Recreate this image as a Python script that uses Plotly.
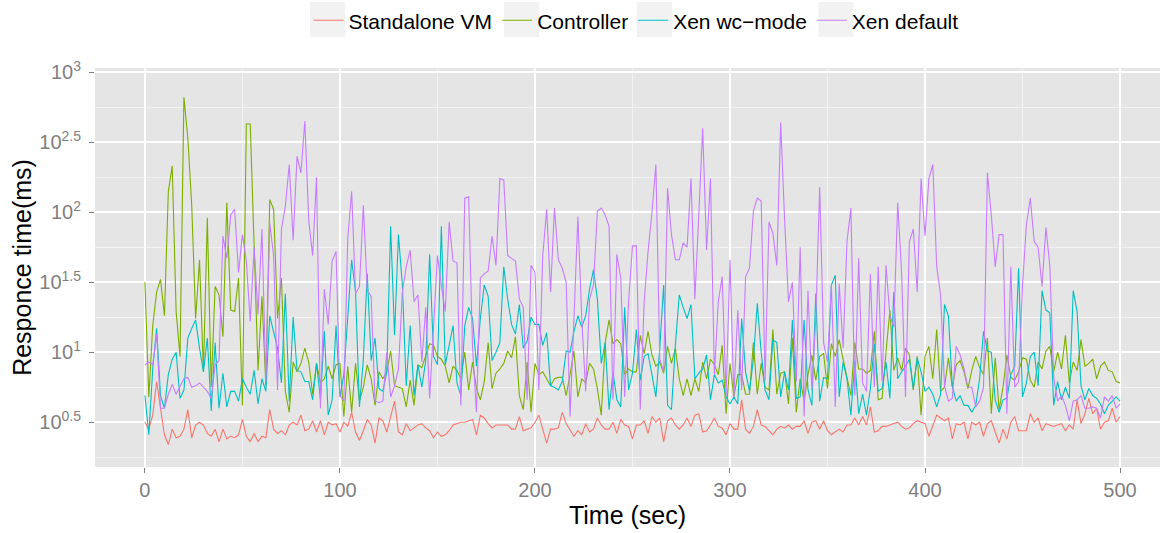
import plotly.graph_objects as go

# ---------------- data ----------------
time_sec = list(range(0, 501, 2))

series_names = ["Standalone VM", "Controller", "Xen wc\u2212mode", "Xen default"]

standalone_vm_ms = [
    3.16, 2.82, 3.55, 6.17, 3.98, 2.57, 2.19, 2.82, 2.45, 2.51, 2.82, 3.89, 2.45, 3.02, 3.16, 3.02, 2.63, 2.51, 2.82, 2.29, 2.82, 2.40, 2.51, 2.45, 2.57, 3.31, 2.51, 2.29, 2.63, 2.29, 2.51,
    2.45, 3.89, 2.82, 2.63, 2.75, 2.57, 3.02, 3.16, 3.02, 3.55, 2.75, 2.82, 3.24, 2.69, 3.24, 2.57, 3.16, 3.02, 3.09, 2.69, 3.16, 2.95, 3.72, 2.69, 2.34, 2.75, 3.31, 3.02, 2.24, 3.39, 3.24,
    2.69, 3.55, 4.47, 2.69, 2.57, 3.09, 2.75, 2.88, 3.02, 3.09, 2.88, 2.75, 2.45, 2.69, 2.51, 2.57, 2.75, 3.02, 3.09, 3.16, 3.16, 3.24, 3.31, 2.57, 3.55, 3.39, 3.09, 2.88, 3.02, 3.02, 3.02,
    3.02, 2.82, 2.82, 3.47, 2.75, 2.82, 2.88, 3.16, 3.55, 2.82, 2.24, 2.82, 2.82, 2.88, 3.72, 3.09, 2.75, 2.51, 2.75, 2.57, 3.09, 2.69, 2.82, 3.39, 3.02, 2.82, 2.82, 3.16, 2.63, 3.31, 3.02,
    2.95, 2.40, 3.02, 3.02, 3.24, 2.63, 3.47, 3.16, 3.39, 2.29, 3.24, 3.39, 3.02, 2.82, 3.02, 3.39, 2.95, 3.55, 3.63, 2.69, 2.75, 3.02, 3.39, 2.95, 2.88, 2.57, 3.09, 2.82, 2.82, 4.57,
    2.82, 2.63, 2.95, 3.89, 3.02, 2.95, 2.75, 2.57, 2.82, 2.95, 2.88, 3.02, 2.82, 2.95, 2.95, 3.24, 2.63, 3.16, 3.24, 2.82, 3.24, 2.75, 2.57, 2.69, 2.82, 2.69, 3.02, 3.02, 3.39, 3.02, 3.47,
    3.02, 4.07, 2.69, 2.75, 2.95, 2.95, 3.02, 3.09, 3.16, 2.95, 2.82, 2.88, 3.09, 3.24, 3.16, 3.09, 2.51, 3.02, 3.55, 3.39, 3.24, 3.39, 2.40, 3.09, 3.02, 3.16, 2.40, 3.16, 3.02, 3.16, 2.51,
    3.09, 3.24, 2.69, 2.24, 2.82, 2.40, 3.16, 3.47, 2.75, 2.75, 2.75, 3.63, 3.16, 3.39, 2.75, 3.09, 3.02, 2.95, 3.02, 3.09, 2.75, 3.02, 2.82, 4.57, 3.09, 3.63, 4.68, 3.63, 3.98, 2.82, 3.16, 3.24, 3.98, 3.16, 3.47,
]

controller_ms = [
    31.6, 4.79, 15.5, 26.9, 33.1, 18.2, 141, 214, 19.5, 9.33, 661, 339, 112, 17.4, 45.7, 7.24, 91.2, 5.62, 29.5, 25.7, 12.9, 117, 20.0, 19.5, 33.9, 4.17, 427, 427, 57.5, 7.41, 25.1,
    5.75, 123, 105, 17.4, 33.9, 5.25, 3.72, 8.51, 7.24, 8.32, 10.7, 8.51, 5.01, 8.32, 6.03, 6.46, 7.94, 6.46, 8.13, 8.32, 3.47, 7.94, 3.72, 8.32, 4.47, 5.62, 8.13, 6.46, 4.17, 7.24, 6.46,
    7.24, 10.2, 5.75, 5.62, 5.50, 4.07, 6.31, 4.17, 8.13, 7.76, 9.33, 11.5, 11.2, 9.33, 8.91, 7.94, 6.03, 7.94, 7.41, 6.46, 10.0, 5.37, 8.51, 5.50, 4.57, 6.17, 11.7, 5.50, 7.08, 7.59, 8.32,
    10.2, 9.12, 12.9, 4.90, 3.89, 8.51, 3.72, 8.32, 6.92, 7.24, 6.46, 5.75, 6.46, 6.61, 6.61, 4.90, 6.92, 10.2, 4.79, 6.46, 6.03, 8.32, 7.59, 5.50, 3.55, 11.7, 17.0, 11.5, 12.3, 11.5, 6.92,
    7.59, 7.24, 7.24, 13.2, 9.77, 14.1, 9.55, 7.94, 8.51, 7.08, 11.0, 8.32, 10.7, 6.46, 4.90, 6.46, 4.90, 6.46, 5.25, 8.51, 6.46, 8.91, 8.13, 6.92, 11.2, 3.63, 8.32, 4.79, 6.92, 6.92,
    5.01, 5.01, 11.7, 5.01, 8.32, 5.62, 5.37, 14.5, 5.01, 7.08, 7.24, 4.27, 12.6, 3.72, 6.46, 4.47, 6.92, 9.55, 6.31, 9.33, 9.77, 5.50, 11.5, 9.33, 12.3, 8.91, 6.61, 4.90, 11.7, 7.59, 7.59,
    7.08, 7.41, 14.1, 4.57, 4.68, 10.0, 20.0, 7.41, 9.12, 7.41, 10.7, 9.55, 5.37, 9.33, 3.55, 9.33, 11.0, 6.46, 14.5, 5.25, 5.62, 9.12, 5.62, 8.13, 8.71, 7.24, 5.50, 7.41, 9.33, 7.76, 6.92,
    12.6, 3.63, 9.12, 3.89, 5.62, 9.55, 6.61, 6.31, 7.24, 9.12, 8.91, 6.31, 5.62, 8.51, 7.59, 10.2, 11.0, 7.24, 10.0, 7.59, 13.2, 6.03, 8.51, 7.41, 12.3, 7.94, 8.32, 8.91, 6.46, 7.94, 8.51, 7.41, 7.24, 6.17, 6.03,
]

xen_wc_mode_ms = [
    4.90, 2.57, 7.59, 14.8, 4.90, 3.98, 6.92, 8.91, 10.0, 4.68, 5.37, 12.6, 14.8, 17.0, 10.7, 7.24, 12.6, 3.80, 11.7, 3.98, 7.08, 4.07, 5.25, 5.25, 4.47, 6.46, 5.62, 5.01, 7.41, 4.27, 6.46,
    5.25, 18.2, 14.1, 10.7, 6.03, 26.3, 4.47, 17.8, 7.41, 7.24, 6.17, 6.17, 4.57, 8.32, 4.57, 14.1, 3.55, 4.57, 15.5, 4.79, 6.92, 19.5, 45.7, 26.9, 4.07, 8.91, 36.3, 8.71, 12.6, 5.50, 5.25,
    7.24, 79.4, 13.2, 69.2, 30.2, 5.75, 15.5, 4.90, 8.13, 5.62, 8.71, 50.1, 9.33, 8.13, 79.4, 8.13, 11.2, 15.5, 6.03, 4.90, 15.5, 20.9, 17.4, 7.94, 17.4, 30.2, 25.1, 8.71, 10.0, 11.7, 40.7,
    24.0, 15.8, 13.5, 21.9, 10.7, 12.0, 17.8, 15.8, 15.8, 11.2, 13.8, 5.75, 5.62, 5.37, 6.17, 10.2, 10.0, 14.1, 18.2, 15.1, 18.2, 28.2, 38.9, 24.0, 8.32, 11.7, 3.89, 7.24, 4.57, 4.07, 20.9,
    5.37, 7.08, 14.5, 6.31, 9.33, 9.77, 6.92, 4.79, 10.7, 30.2, 4.17, 3.89, 11.2, 25.7, 20.9, 17.4, 21.9, 6.46, 7.08, 7.59, 9.55, 4.57, 6.92, 6.03, 6.31, 4.79, 4.27, 4.79, 4.27, 17.4,
    7.24, 5.25, 8.91, 22.4, 10.0, 5.37, 4.57, 12.3, 11.7, 4.79, 7.24, 5.37, 17.0, 4.68, 4.79, 17.0, 5.37, 4.17, 26.3, 4.47, 6.61, 6.46, 30.2, 35.5, 4.79, 8.51, 6.46, 3.55, 8.71, 3.63, 5.01,
    3.55, 5.50, 11.5, 5.25, 5.50, 8.51, 4.68, 26.9, 6.46, 7.24, 7.94, 8.91, 5.50, 9.12, 7.24, 5.25, 5.62, 5.01, 4.07, 5.01, 21.9, 18.2, 5.75, 4.47, 4.90, 4.17, 4.17, 3.72, 4.17, 6.46, 14.1,
    10.2, 10.0, 4.57, 3.72, 4.57, 4.68, 6.92, 7.94, 39.8, 4.79, 6.03, 9.33, 10.0, 5.75, 27.5, 20.0, 19.1, 4.17, 6.17, 4.57, 5.62, 4.68, 27.5, 19.5, 5.75, 4.57, 5.50, 4.90, 4.68, 4.27, 3.63, 4.17, 4.47, 4.79, 4.47,
]

xen_default_ms = [
    8.13, 8.51, 8.13, 13.5, 3.98, 3.98, 5.01, 5.89, 5.01, 5.62, 6.46, 6.61, 5.62, 5.75, 6.03, 5.62, 5.25, 4.68, 8.13, 8.71, 67.6, 46.8, 95.5, 105, 37.2, 69.2, 44.7, 16.6, 56.2, 18.6, 75.9,
    6.17, 83.2, 49.0, 5.37, 75.9, 110, 219, 63.1, 251, 191, 447, 87.1, 49.0, 178, 3.98, 28.2, 15.8, 44.7, 52.5, 4.90, 4.47, 64.6, 141, 26.3, 29.5, 112, 27.5, 25.1, 4.47, 4.37, 4.47,
    10.0, 4.79, 5.75, 7.59, 26.9, 40.7, 53.7, 22.9, 25.7, 8.51, 20.9, 4.68, 14.8, 49.0, 30.2, 19.5, 85.1, 44.7, 43.7, 4.17, 126, 129, 10.7, 3.72, 33.9, 36.3, 38.0, 67.6, 41.7, 174, 170,
    49.0, 46.8, 44.7, 24.0, 20.9, 4.57, 41.7, 37.2, 5.37, 49.0, 105, 26.9, 107, 45.7, 39.8, 31.6, 3.47, 17.4, 93.3, 17.4, 5.25, 24.0, 30.2, 102, 107, 95.5, 79.4, 4.57, 50.1, 33.9, 4.79,
    22.9, 57.5, 57.5, 3.89, 22.9, 52.5, 100, 219, 8.91, 7.24, 148, 69.2, 45.7, 45.7, 60.3, 56.2, 174, 24.0, 95.5, 398, 53.7, 174, 6.92, 22.9, 34.7, 4.90, 45.7, 4.79, 20.0, 5.37,
    34.7, 39.8, 102, 126, 120, 6.31, 85.1, 70.8, 41.7, 437, 89.1, 22.9, 31.6, 6.17, 56.2, 3.47, 27.5, 5.37, 17.4, 151, 11.7, 8.51, 30.2, 4.07, 30.9, 10.7, 61.7, 107, 4.90, 46.8, 6.03,
    5.25, 36.3, 5.62, 40.7, 6.17, 41.7, 18.2, 15.1, 117, 37.2, 4.79, 61.7, 75.9, 26.9, 174, 67.6, 174, 219, 40.7, 25.7, 5.75, 4.47, 4.68, 11.0, 9.55, 7.59, 5.62, 5.62, 4.07, 4.47, 5.62,
    191, 95.5, 40.7, 69.2, 69.2, 3.63, 40.7, 5.62, 6.17, 30.2, 81.3, 126, 61.7, 56.2, 29.5, 77.6, 41.7, 6.61, 4.47, 4.90, 4.17, 3.24, 4.47, 4.57, 4.90, 3.98, 3.98, 4.07, 3.98, 3.39, 4.79, 4.47, 4.90, 3.98, 4.27,
]

x_tick_values = [0, 100, 200, 300, 400, 500]
x_minor_values = [50, 150, 250, 350, 450]
y_tick_exponents = ["0.5", "1", "1.5", "2", "2.5", "3"]
y_minor_exponents = [0.25, 0.75, 1.25, 1.75, 2.25, 2.75]

# ---------------- figure ----------------
series_values = [standalone_vm_ms, controller_ms, xen_wc_mode_ms, xen_default_ms]
colors = ["#F8766D", "#7CAE00", "#00BFC4", "#C77CFF"]

for vals in series_values:
    assert len(vals) == len(time_sec), len(vals)

fig = go.Figure()
for name, vals, col in zip(series_names, series_values, colors):
    fig.add_trace(go.Scatter(x=time_sec, y=vals, mode="lines", name=name,
                             line=dict(color=col, width=1.1)))

font_family = "Liberation Sans, Arial, Helvetica, sans-serif"
tick_grey = "#7F7F7F"

y_tickvals = [10 ** float(e) for e in y_tick_exponents]
y_ticktext = ["10<sup>%s</sup>" % e for e in y_tick_exponents]
y_minorvals = [10 ** e for e in y_minor_exponents]

# grey legend key backgrounds (ggplot style), placed behind the legend symbols
PLOT_L, PLOT_W, PLOT_T, PLOT_H = 95, 1065, 68, 399
key_centers_px = [327.5, 521.5, 654.5, 836]
key_half = 17.5
shapes = []
for cx in key_centers_px:
    shapes.append(dict(type="rect", xref="paper", yref="paper",
                       x0=(cx - key_half - PLOT_L) / PLOT_W, x1=(cx + key_half - PLOT_L) / PLOT_W,
                       y0=1 + (PLOT_T - 37) / PLOT_H, y1=1 + (PLOT_T - 2) / PLOT_H,
                       fillcolor="#F2F2F2", line=dict(width=0), layer="below"))

fig.update_layout(
    width=1160, height=533,
    margin=dict(l=95, r=0, t=68, b=66),
    paper_bgcolor="white",
    plot_bgcolor="#E5E5E5",
    font=dict(family=font_family, color="black"),
    showlegend=True,
    shapes=shapes,
    legend=dict(orientation="h", x=0.508, xanchor="center", y=1.17, yanchor="top",
                font=dict(size=21, color="black"), bgcolor="rgba(0,0,0,0)",
                itemwidth=30, tracegroupgap=0),
    xaxis=dict(range=[-25.6, 520.5], tickmode="array", tickvals=x_tick_values,
               ticks="outside", ticklen=5, tickwidth=1, tickcolor=tick_grey,
               tickfont=dict(size=20, color=tick_grey),
               showgrid=True, gridcolor="white", gridwidth=1.6, zeroline=False,
               showline=False,
               minor=dict(tickmode="array", tickvals=x_minor_values, showgrid=True,
                          gridcolor="#F2F2F2", gridwidth=0.8, ticks=""),
               title=dict(text="Time (sec)", font=dict(size=25, color="black"), standoff=6)),
    yaxis=dict(type="log", range=[0.18, 3.03], tickmode="array",
               tickvals=y_tickvals, ticktext=y_ticktext,
               ticks="outside", ticklen=5, tickwidth=1, tickcolor=tick_grey,
               tickfont=dict(size=20, color=tick_grey), ticklabelstandoff=4,
               showgrid=True, gridcolor="white", gridwidth=1.6, zeroline=False,
               showline=False,
               minor=dict(tickmode="array", tickvals=y_minorvals, showgrid=True,
                          gridcolor="#F2F2F2", gridwidth=0.8, ticks=""),
               title=dict(text="Responce time(ms)", font=dict(size=25, color="black"), standoff=0)),
)

fig.write_html("out.html")
